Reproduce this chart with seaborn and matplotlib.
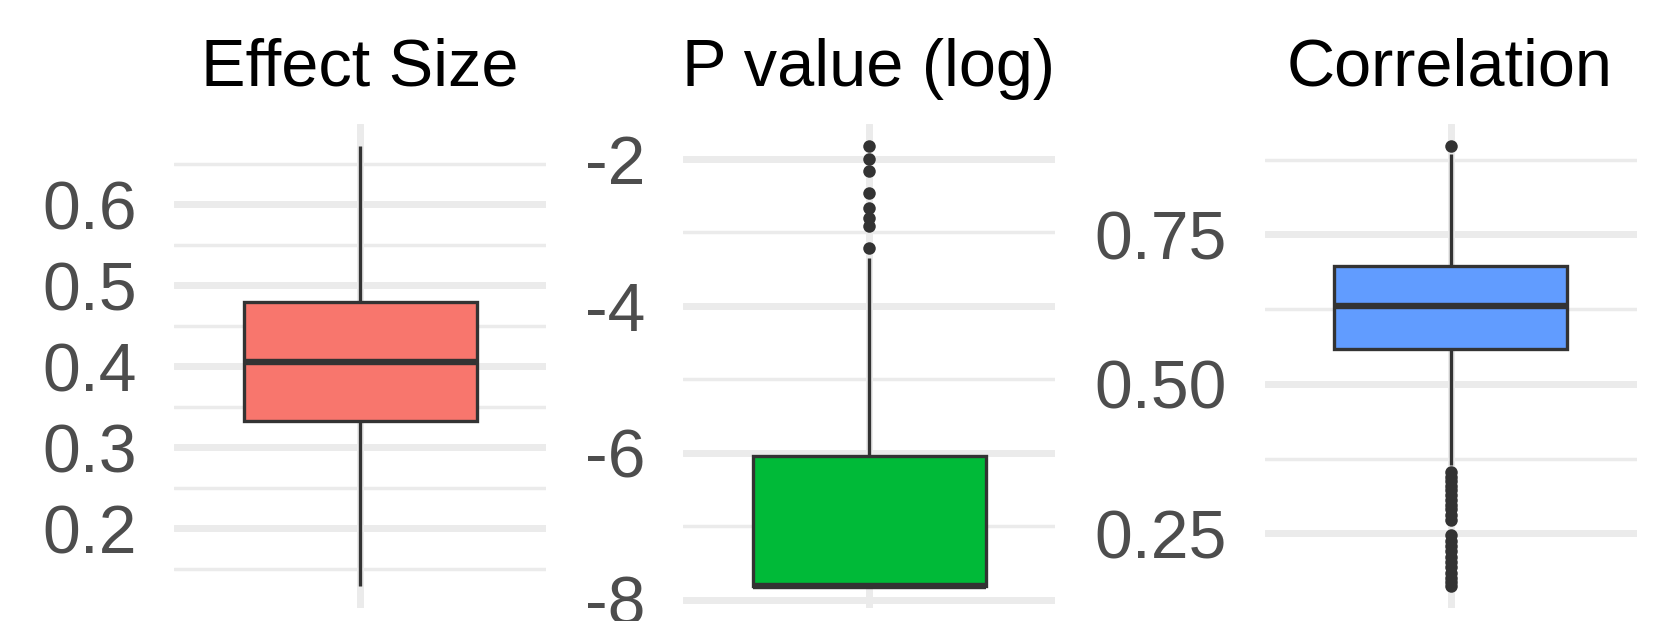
import matplotlib
matplotlib.use("Agg")
import matplotlib.pyplot as plt
import seaborn as sns
from matplotlib.ticker import FixedLocator

# Panel titles and fill colours
panel_titles = ["Effect Size", "P value (log)", "Correlation"]
fill_colors = ["#F8766D", "#00BA38", "#619CFF"]

# Box summaries: lower whisker end, Q1, median, Q3, upper whisker end
effect_summary = [0.129, 0.333, 0.405, 0.479, 0.672]
pvalue_summary = [-7.81, -7.81, -7.81, -6.04, -3.35]
corr_summary = [0.364, 0.558, 0.630, 0.697, 0.885]

# Points beyond the whiskers
effect_outliers = []
pvalue_outliers = [-1.83, -2.01, -2.17, -2.47, -2.67, -2.81, -2.92, -3.21]
corr_outliers = [0.898,
                 0.353, 0.345, 0.337, 0.330, 0.322, 0.314, 0.306, 0.298,
                 0.290, 0.281, 0.272,
                 0.247, 0.238, 0.229, 0.220, 0.211, 0.202, 0.193, 0.184,
                 0.175, 0.168, 0.162]

# Axis ticks
effect_major = [0.2, 0.3, 0.4, 0.5, 0.6]
effect_labels = ["0.2", "0.3", "0.4", "0.5", "0.6"]
effect_minor = [0.15, 0.25, 0.35, 0.45, 0.55, 0.65]

pvalue_major = [-8, -6, -4, -2]
pvalue_labels = ["-8", "-6", "-4", "-2"]
pvalue_minor = [-7, -5, -3]

corr_major = [0.25, 0.50, 0.75]
corr_labels = ["0.25", "0.50", "0.75"]
corr_minor = [0.125, 0.375, 0.625, 0.875]

sns.set_theme(style="white")
plt.rcParams["font.family"] = ["Liberation Sans", "DejaVu Sans"]

W, H = 1659, 621
fig = plt.figure(figsize=(W / 100, H / 100), dpi=100)
fig.patch.set_facecolor("white")

panel_left = [174.3, 683.3, 1264.6]
panel_width = 372
title_x = [360, 868, 1450]
panel_top, panel_bottom = 124, 608

panels = [
    (effect_summary, effect_outliers, effect_major, effect_labels, effect_minor),
    (pvalue_summary, pvalue_outliers, pvalue_major, pvalue_labels, pvalue_minor),
    (corr_summary, corr_outliers, corr_major, corr_labels, corr_minor),
]

grid_col = "#EBEBEB"
line_col = "#333333"

for i, (summary, outliers, major, labels, minor) in enumerate(panels):
    x0 = panel_left[i]
    ax = fig.add_axes([x0 / W, (H - panel_bottom) / H, panel_width / W,
                       (panel_bottom - panel_top) / H])
    ax.set_facecolor("white")
    ax.set_axisbelow(True)

    sns.boxplot(y=summary, ax=ax, color=fill_colors[i], saturation=1, width=0.75,
                whis=(0, 100), showcaps=False, showfliers=False,
                linecolor=line_col, linewidth=2.4,
                medianprops=dict(linewidth=4.6, color=line_col))
    if outliers:
        sns.stripplot(y=outliers, ax=ax, jitter=False, color=line_col,
                      size=9, linewidth=0, zorder=3)

    all_vals = list(summary) + list(outliers)
    lo, hi = min(all_vals), max(all_vals)
    pad = 0.05 * (hi - lo)
    ax.set_ylim(lo - pad, hi + pad)
    ax.set_xlim(-0.6, 0.6)

    ax.set_yticks(major)
    ax.set_yticklabels(labels)
    ax.yaxis.set_minor_locator(FixedLocator(minor))
    ax.set_xticks([0])
    ax.set_xticklabels([""])
    ax.tick_params(axis="both", which="both", length=0)
    ax.tick_params(axis="y", which="major", labelsize=49, labelcolor="#4D4D4D", pad=27)

    ax.yaxis.grid(True, which="major", color=grid_col, linewidth=5)
    ax.yaxis.grid(True, which="minor", color=grid_col, linewidth=2.5)
    ax.xaxis.grid(True, which="major", color=grid_col, linewidth=5)

    ax.set_xlabel("")
    ax.set_ylabel("")
    for s in ax.spines.values():
        s.set_visible(False)

    fig.text(title_x[i] / W, 1 - 86 / H, panel_titles[i], ha="center", va="baseline",
             fontsize=48, color="black")

fig.savefig("out.png", dpi=100, facecolor="white")
